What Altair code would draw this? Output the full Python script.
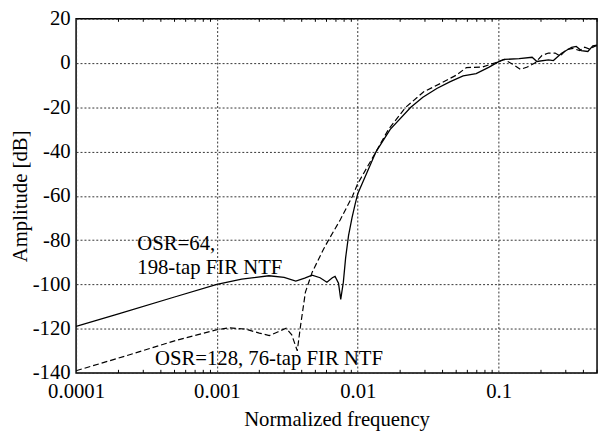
import altair as alt
import pandas as pd

# OSR=64, 198-tap FIR NTF (solid)
solid_f = [0.0001, 0.0002, 0.0005, 0.001, 0.0015, 0.00234, 0.0030, 0.00363, 0.0042,
           0.00474, 0.0054, 0.00604, 0.0066, 0.0069, 0.0073, 0.00757, 0.0079, 0.0082,
           0.0086, 0.0091, 0.0096, 0.0100, 0.0135, 0.0170, 0.0238, 0.0290, 0.0364,
           0.045, 0.056, 0.0693, 0.085, 0.101, 0.1096, 0.14, 0.173, 0.187, 0.226,
           0.245, 0.28, 0.33, 0.356, 0.386, 0.43, 0.467, 0.5]
solid_db = [-119, -113.3, -105.7, -100, -97.6, -96.1, -96.8, -98.5, -97.2,
            -95.8, -97.0, -99.0, -97.0, -96.4, -99.5, -106.8, -99, -88,
            -78, -70, -63.5, -59, -40, -30, -20, -15.5, -11.5,
            -8.5, -5.8, -4.8, -2.0, 0.7, 1.6, 2.0, 2.6, 0.7, 1.4,
            1.1, 4.4, 7.1, 7.5, 5.6, 5.2, 7.8, 8.1]

# OSR=128, 76-tap FIR NTF (dashed)
dash_f = [0.0001, 0.0002, 0.0005, 0.001, 0.00123, 0.0016, 0.002, 0.00236, 0.0027,
          0.0031, 0.0034, 0.00372, 0.00393, 0.00425, 0.00474, 0.0057, 0.0062, 0.0075,
          0.0092, 0.0100, 0.0135, 0.0165, 0.0219, 0.0294, 0.0385, 0.05, 0.059, 0.077,
          0.101, 0.1096, 0.125, 0.143, 0.160, 0.182, 0.203, 0.226, 0.252, 0.273,
          0.304, 0.338, 0.377, 0.408, 0.442, 0.479, 0.5]
dash_db = [-139, -133.3, -125.5, -120.5, -119.6, -120.2, -122, -123.1, -121.5,
           -119.8, -122.8, -130, -118.4, -103.5, -94.6, -84.2, -80, -70.9,
           -60, -54.5, -40, -30, -20, -13, -9.3, -5.5, -2.1, -1.8,
           0.7, 1.6, -0.4, -2.9, -1.8, 0.1, 3.4, 4.5, 4.5, 3.1,
           6.1, 6.6, 5.6, 7.1, 6.3, 7.5, 7.8]

# annotations
label_text = ["OSR=64,", "198-tap FIR NTF", "OSR=128, 76-tap FIR NTF"]
label_f = [0.000272, 0.000272, 0.000363]
label_db = [-84.5, -95.5, -136.5]

# minor ticks of the log axis
minor_f = [m * 10 ** e for e in (-4, -3, -2) for m in range(2, 10)] + [0.2, 0.3, 0.4, 0.5]

x_ticks = [0.0001, 0.001, 0.01, 0.1]
y_ticks = [-140, -120, -100, -80, -60, -40, -20, 0, 20]

FONT = "Liberation Serif"
FS = 21

solid = pd.DataFrame({"f": solid_f, "db": solid_db})
dashed = pd.DataFrame({"f": dash_f, "db": dash_db})
labels = pd.DataFrame({"f": label_f, "db": label_db, "t": label_text})
minor = pd.DataFrame({"f": minor_f})

xscale = alt.Scale(type="log", domain=[0.0001, 0.5], nice=False)
yscale = alt.Scale(domain=[-140, 20], nice=False)

xaxis = alt.Axis(values=x_ticks, format="~g", title="Normalized frequency",
                 grid=True, gridDash=[2, 2], gridColor="#333", gridWidth=1,
                 ticks=False, tickSize=0, domain=False, labelPadding=8,
                 labelFont=FONT, labelFontSize=FS, titleFont=FONT, titleFontSize=FS,
                 titleFontWeight="normal", titlePadding=7, labelColor="black",
                 titleColor="black", labelFlush=False, labelOverlap=False)
yaxis = alt.Axis(values=y_ticks, title="Amplitude [dB]",
                 labelExpr="toString(datum.value)",
                 grid=True, gridDash=[2, 2], gridColor="#333", gridWidth=1,
                 ticks=False, tickSize=0, domain=False, labelPadding=6,
                 labelFont=FONT, labelFontSize=FS, titleFont=FONT, titleFontSize=FS,
                 titleFontWeight="normal", titlePadding=2, labelColor="black",
                 titleColor="black", labelFlush=False, labelOverlap=False)

base_x = alt.X("f:Q", scale=xscale, axis=xaxis)
base_y = alt.Y("db:Q", scale=yscale, axis=yaxis)

line_solid = alt.Chart(solid).mark_line(color="black", strokeWidth=1.3, clip=True).encode(
    x=base_x, y=base_y)
line_dash = alt.Chart(dashed).mark_line(color="black", strokeWidth=1.2, strokeDash=[6, 3],
                                        clip=True).encode(x="f:Q", y="db:Q")

tick_bottom = alt.Chart(minor).mark_rule(color="black", strokeWidth=1).encode(
    x="f:Q", y=alt.datum(-140), y2=alt.datum(-138.6))
tick_top = alt.Chart(minor).mark_rule(color="black", strokeWidth=1).encode(
    x="f:Q", y=alt.datum(20), y2=alt.datum(18.6))

text = alt.Chart(labels).mark_text(font=FONT, fontSize=FS, align="left",
                                   baseline="alphabetic", color="black").encode(
    x="f:Q", y="db:Q", text="t:N")

chart = alt.layer(line_solid, line_dash, tick_bottom, tick_top, text).properties(
    width=528, height=359,
    autosize=alt.AutoSizeParams(type="none"),
    padding={"left": 69, "top": 8, "right": 3, "bottom": 58},
    background="white",
).configure_view(stroke="black", strokeWidth=1.5)

chart.save("out.html", embed_options={"renderer": "svg", "actions": False})
